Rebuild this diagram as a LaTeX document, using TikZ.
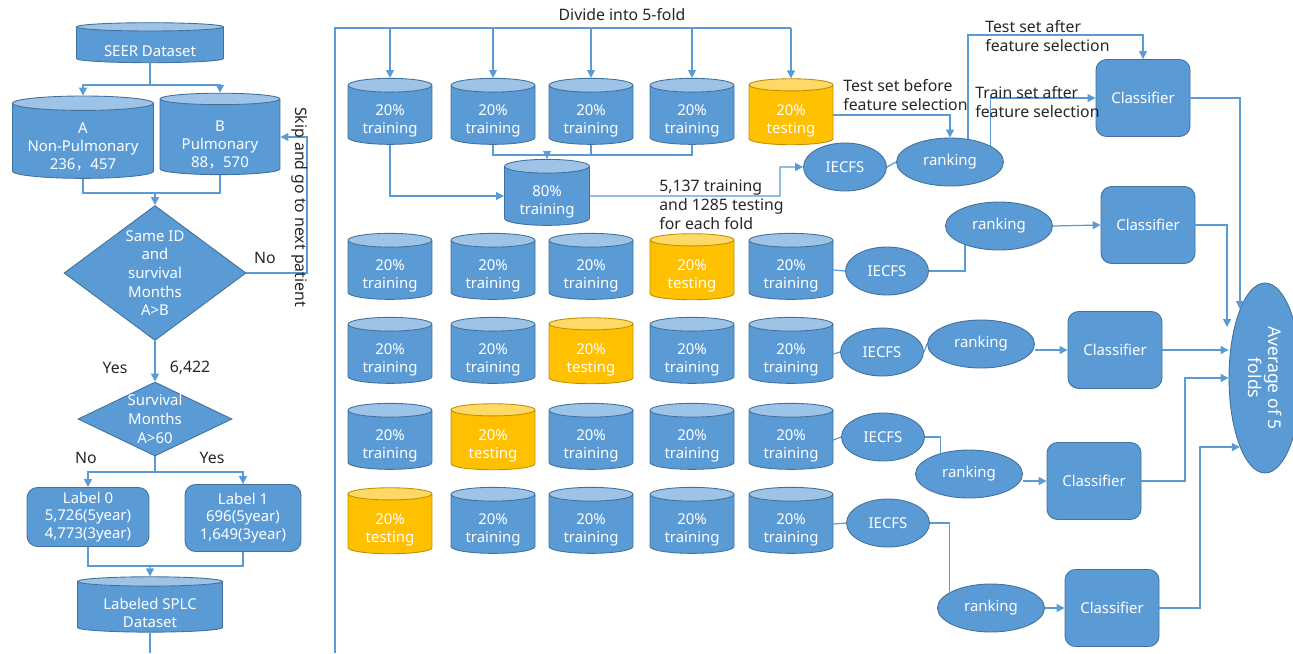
\documentclass[tikz,border=0pt]{standalone}
\usepackage{fontspec}
\setmainfont{Noto Sans}
\newfontfamily\cjk{Noto Sans CJK SC}
\usetikzlibrary{shapes.geometric,arrows.meta}

\definecolor{dbblue}{HTML}{5B9BD5}
\definecolor{dbtop}{HTML}{9DC3E6}
\definecolor{dbedge}{HTML}{41719C}
\definecolor{tstfill}{HTML}{FFC000}
\definecolor{tsttop}{HTML}{FFD966}
\definecolor{tstedge}{HTML}{BF9000}

% pushes the text of a cylinder a little below its middle
\newcommand{\dbstrut}{\rule{0pt}{13pt}}

\begin{document}
\begin{tikzpicture}[x=0.02cm, y=-0.02cm,
    >={Triangle[length=4.5pt,width=4.5pt]},
    link/.style={draw=dbblue, line width=0.7pt},
    txt/.style={font=\fontsize{9}{10.8}\selectfont, align=left, text=black!85, inner sep=0pt},
    db/.style={cylinder, shape border rotate=90, aspect=0.25, cylinder uses custom fill,
        cylinder body fill=dbblue, cylinder end fill=dbtop, draw=dbedge, line width=0.5pt,
        text=white, align=center, inner sep=0pt, font=\fontsize{8.5}{10.2}\selectfont},
    traindb/.style={db, minimum width=1.68cm, minimum height=1.32cm},
    testdb/.style={traindb, cylinder body fill=tstfill, cylinder end fill=tsttop, draw=tstedge},
    oval/.style={ellipse, fill=dbblue, draw=dbedge, line width=0.5pt, text=white, inner sep=0pt,
        minimum height=0.96cm, font=\fontsize{8.5}{10.2}\selectfont},
    iecfs/.style={oval, minimum width=1.66cm},
    rankoval/.style={oval, minimum width=2.14cm},
    clf/.style={rectangle, rounded corners=6pt, fill=dbblue, draw=dbedge, line width=0.5pt,
        text=white, minimum width=1.88cm, minimum height=1.54cm, font=\fontsize{8.5}{10.2}\selectfont},
    lbox/.style={rectangle, rounded corners=6pt, fill=dbblue, draw=dbedge, line width=0.5pt,
        text=white, align=center, inner sep=0pt, font=\fontsize{8.5}{10}\selectfont},
    decide/.style={diamond, fill=dbblue, draw=dbedge, line width=0.5pt, text=white,
        align=center, inner sep=0pt, font=\fontsize{8.5}{10.6}\selectfont}
]
\useasboundingbox (0,0) rectangle (1293,653);

% left part: building the dataset
\node[db, minimum width=2.94cm, minimum height=0.8cm, aspect=0.09] (seer) at (150,45) {\dbstrut SEER Dataset};
\node[db, minimum width=2.82cm, minimum height=1.6cm, aspect=0.13] (nonpul) at (83,141)
    {\dbstrut A\\Non-Pulmonary\\236{\cjk，}457};
\node[db, minimum width=2.4cm, minimum height=1.44cm, aspect=0.15] (pul) at (220,137)
    {\rule{0pt}{15pt}B\\Pulmonary\\88{\cjk，}570};
\node[decide, aspect=1.35, minimum width=3.64cm, minimum height=2.7cm] (sameid) at (155,273)
    {Same ID\\and\\survival\\Months\\A>B};
\node[decide, aspect=2.08, inner sep=-1.5pt, minimum width=3.08cm, minimum height=1.48cm] (surv) at (155,419)
    {Survival\\Months\\A>60};
\node[lbox, minimum width=2.44cm, minimum height=1.18cm] (lab0) at (88,517) {Label 0\\5,726(5year)\\4,773(3year)};
\node[lbox, minimum width=2.32cm, minimum height=1.34cm] (lab1) at (243,518) {Label 1\\696(5year)\\1,649(3year)};
\node[db, minimum width=2.9cm, minimum height=0.9cm, aspect=0.1] (splc) at (150,607) {\dbstrut Labeled SPLC\\Dataset};

\coordinate (split1) at (150,85);
\coordinate (join1) at (155,193);
\coordinate (skipturn) at (307,273);
\coordinate (split2) at (155,472);
\coordinate (join2) at (150,566);
\coordinate (splcout) at (150,653);

\draw[link] (seer.south) -- (split1);
\draw[link,->] (split1) -| (nonpul.north);
\draw[link,->] (split1) -| (pul.north);
\draw[link] (nonpul.south) |- (join1);
\draw[link] (pul.south) |- (join1);
\draw[link,->] (join1) -- (sameid.north);
\draw[link,->] (sameid.east) -- (skipturn) |- (pul.east);
\draw[link,->] (sameid.south) -- (surv.north);
\draw[link] (surv.south) -- (split2);
\draw[link,->] (split2) -| (lab0.north);
\draw[link,->] (split2) -| (lab1.north);
\draw[link] (lab0.south) |- (join2);
\draw[link] (lab1.south) |- (join2);
\draw[link,->] (join2) -- (splc.north);
\draw[link] (splc.south) -- (splcout);

\node[txt, rotate=-90] (skiptxt) at (300,207) {Skip and go to next patient};
\node[txt] (notxt1) at (265,258) {No};
\node[txt] (yestxt1) at (115,368) {Yes};
\node[txt] (cnttxt) at (190,368) {6,422};
\node[txt] (notxt2) at (86,458) {No};
\node[txt] (yestxt2) at (212,458) {Yes};

% the five folds
\foreach \r/\y in {1/115,2/270,3/354,4/440,5/524}
  \foreach \c/\x in {1/390,2/493,3/591,4/692,5/791}{
    \pgfmathtruncatemacro{\tst}{6-\r}
    \ifnum\c=\tst
      \node[testdb] (c\r\c) at (\x,\y) {\dbstrut 20\%\\testing};
    \else
      \node[traindb] (c\r\c) at (\x,\y) {\dbstrut 20\%\\training};
    \fi
  }
\node[traindb, minimum width=1.7cm] (p80) at (547,196) {\dbstrut 80\%\\training};

\coordinate (foldtop) at (335,28);
\coordinate (foldbot) at (335,653);
\draw[link] (foldbot) -- (foldtop) -- (c15.north |- foldtop);
\foreach \c in {1,...,5}
  \draw[link,->] (c1\c.north |- foldtop) -- (c1\c.north);
\node[txt] (divtxt) at (622,15) {Divide into 5-fold};

\coordinate (merge) at (547,155);
\draw[link] (c12.south) |- (merge);
\draw[link] (c13.south) |- (merge);
\draw[link] (c14.south) |- (merge);
\draw[link,->] (merge) -- (p80.north);
\draw[link,->] (c11.south) |- (p80.west);
\node[txt, anchor=west] (splittxt) at (659,205) {5,137 training\\and 1285 testing\\for each fold};

% feature selection and classifiers
\node[iecfs] (ie1) at (845,167) {IECFS};
\node[rankoval] (rk1) at (950,162) {ranking};
\node[clf] (clf1) at (1143,98) {Classifier};
\node[iecfs] (ie2) at (887,271) {IECFS};
\node[rankoval] (rk2) at (999,226) {ranking};
\node[clf] (clf2) at (1148,225) {Classifier};
\node[iecfs] (ie3) at (882,352) {IECFS};
\node[rankoval] (rk3) at (981,344) {ranking};
\node[clf] (clf3) at (1115,350) {Classifier};
\node[iecfs] (ie4) at (883,437) {IECFS};
\node[rankoval] (rk4) at (969,474) {ranking};
\node[clf] (clf4) at (1094,481) {Classifier};
\node[iecfs] (ie5) at (888,523) {IECFS};
\node[rankoval] (rk5) at (991,608) {ranking};
\node[clf] (clf5) at (1112,608) {Classifier};
\node[oval, minimum width=1.44cm, minimum height=3.8cm] (avg) at (1265,378) {};
\node[text=white, rotate=-90, align=center, font=\fontsize{10}{11}\selectfont] (avgtxt) at (avg.center)
    {Average of 5\\folds};

\coordinate (bend80) at (780,196);
\coordinate (tsa) at (968,35);
\coordinate (avgin2) at (1227,327);
\coordinate (bend4) at (1185,481);
\coordinate (bend5) at (1200,608);

\draw[link,->] (p80.east) -- (bend80) |- (ie1.west);
\draw[link] (ie1.east) -- (rk1.west);
\draw[link,->] (c15.east) -| (rk1.north);
\draw[link,->] (rk1.52) -- (rk1.52 |- tsa) -| (clf1.north);
\draw[link,->] (rk1.22) |- (clf1.west);
\node[txt, anchor=west] (tbtxt) at (843,95) {Test set before\\feature selection};
\node[txt, anchor=west] (tatxt) at (985,36) {Test set after\\feature selection};
\node[txt, anchor=west] (tratxt) at (975,102) {Train set after\\feature selection};

\draw[link] (c25.east) -- (ie2.west);
\draw[link] (ie2.east) -| (rk2.209);
\draw[link,->] (rk2.east) -- (clf2.west);
\draw[link] (c35.east) -- (ie3.west);
\draw[link] (ie3.east) -- (rk3.west);
\draw[link,->] (rk3.east |- clf3.west) -- (clf3.west);
\draw[link] (c45.east) -- (ie4.west);
\draw[link] (ie4.east) -| (rk4.144);
\draw[link,->] (rk4.east |- clf4.west) -- (clf4.west);
\draw[link] (c55.east) -- (ie5.west);
\draw[link] (ie5.east) -| (rk5.159);
\draw[link,->] (rk5.east) -- (clf5.west);

\draw[link,->] (clf1.east) -| (avg.110);
\draw[link,->] (clf2.east) -| (avgin2);
\draw[link,->] (clf3.east) -- (clf3.east -| avg.west);
\draw[link,->] (clf4.east) -- (bend4) |- (avg.west);
\draw[link,->] (clf5.east) -- (bend5) |- (avg.250);
\end{tikzpicture}
\end{document}
